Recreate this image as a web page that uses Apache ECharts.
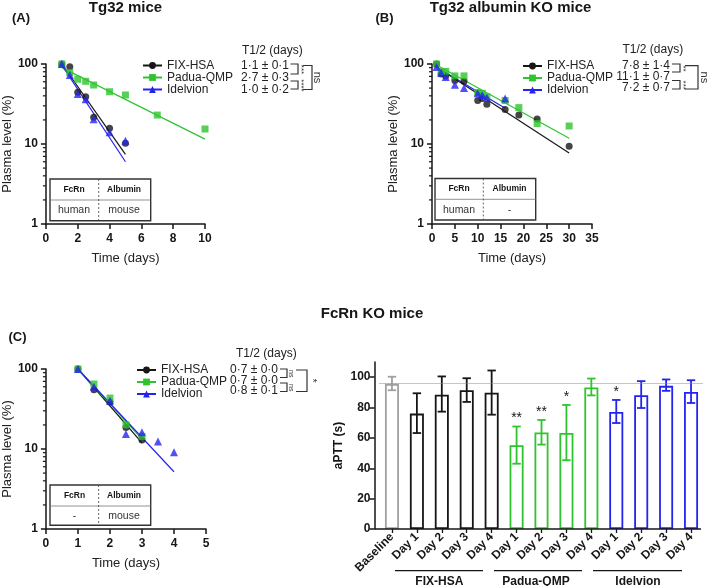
<!DOCTYPE html>
<html><head><meta charset="utf-8">
<script src="https://cdn.jsdelivr.net/npm/echarts@6/dist/echarts.min.js"></script>
<style>html,body{margin:0;padding:0;background:#fff}#c{width:709px;height:586px}</style>
</head><body><div id="c"></div>
<script>
// ---------- Panel A: Tg32 mice ----------
const aFixX = [1, 1.5, 2, 2.5, 3, 4, 5];
const aFixY = [100, 92.5, 44.5, 39, 21.6, 15.7, 10.2];
const aPadX = [1, 1.5, 2, 2.5, 3, 4, 5, 7, 10];
const aPadY = [100, 77.9, 64.4, 60.8, 54.6, 45, 41, 23, 15.4];
const aIdeX = [1, 1.5, 2, 2.5, 3, 4, 5];
const aIdeY = [100, 72.9, 42.2, 36.2, 20.4, 14.0, 11.0];
const aFixFitX = [1, 5],  aFixFitY = [100, 7.4];
const aPadFitX = [1, 10], aPadFitY = [90, 11.5];
const aIdeFitX = [1, 5],  aIdeFitY = [97, 6.0];
const aHalf = ['1·1 ± 0·1', '2·7 ± 0·3', '1·0 ± 0·2'];
const aSig = ['***', '****', 'ns'];
const aTable = ['FcRn', 'Albumin', 'human', 'mouse'];

// ---------- Panel B: Tg32 albumin KO mice ----------
const bFixX = [1, 2, 3, 5, 7, 10, 11, 12, 16, 19, 23, 30];
const bFixY = [100, 75, 71, 62, 61, 35, 37, 31.5, 27, 23, 20.5, 9.4];
const bPadX = [1, 2, 3, 5, 7, 10, 11, 12, 16, 19, 23, 30];
const bPadY = [100, 80, 81, 71, 71, 44, 43, 39, 35, 28.5, 18, 16.8];
const bIdeX = [1, 2, 3, 5, 7, 10, 11, 12, 16];
const bIdeY = [92, 78, 69, 55, 50, 43, 41, 38, 37];
const bFixFitX = [1, 30], bFixFitY = [92, 7.7];
const bPadFitX = [1, 30], bPadFitY = [97, 11.8];
const bIdeFitX = [1, 16], bIdeFitY = [92, 28];
const bHalf = ['7·8 ± 1·4', '11·1 ± 0·7', '7·2 ± 0·7'];
const bSig = ['**', '***', 'ns'];
const bTable = ['FcRn', 'Albumin', 'human', '-'];

// ---------- Panel C: FcRn KO mice ----------
const cFixX = [1, 1.5, 2, 2.5, 3];
const cFixY = [100, 55, 38.7, 18.6, 13];
const cPadX = [1, 1.5, 2, 2.5, 3];
const cPadY = [100, 65, 43.3, 20.1, 14.4];
const cIdeX = [1, 1.5, 2, 2.5, 3, 3.5, 4];
const cIdeY = [100, 60, 40, 15.4, 16.2, 12.4, 9.1];
const cFixFitX = [1, 3], cFixFitY = [100, 11.9];
const cPadFitX = [1, 3], cPadFitY = [100, 13.3];
const cIdeFitX = [1, 4], cIdeFitY = [100, 5.2];
const cHalf = ['0·7 ± 0·0', '0·7 ± 0·0', '0·8 ± 0·1'];
const cSig = ['ns', 'ns', '*'];
const cTable = ['FcRn', 'Albumin', '-', 'mouse'];

// ---------- Panel D: aPTT bars ----------
const dGroups = ['Baseline', 'FIX-HSA', 'FIX-HSA', 'FIX-HSA', 'FIX-HSA', 'Padua-QMP', 'Padua-QMP', 'Padua-QMP', 'Padua-QMP', 'Idelvion', 'Idelvion', 'Idelvion', 'Idelvion'];
const dLabels = ['Baseline', 'Day 1', 'Day 2', 'Day 3', 'Day 4', 'Day 1', 'Day 2', 'Day 3', 'Day 4', 'Day 1', 'Day 2', 'Day 3', 'Day 4'];
const dMean = [95.6, 76, 88.5, 91.4, 89.7, 55.2, 63.6, 63.2, 93.2, 77.1, 88.1, 94.3, 90.3];
const dLow  = [91.4, 63.2, 77.3, 83.7, 75.3, 43, 55.6, 45.3, 88, 69.8, 79.7, 91, 83];
const dHigh = [100.3, 89.4, 100.5, 99.3, 104.4, 67.5, 71.8, 81.7, 99.1, 85, 97.4, 98.5, 98];
const dStars = ['', '', '', '', '', '**', '**', '*', '', '*', '', '', ''];
const dBaselineRef = 95.8;
const dYTicks = [0, 20, 40, 60, 80, 100];

const seriesNames = ['FIX-HSA', 'Padua-QMP', 'Idelvion'];
const logMinor = [2, 3, 4, 5, 6, 7, 8, 9, 20, 30, 40, 50, 60, 70, 80, 90];

// ---------- styles ----------
const FONT = "'Liberation Sans', Arial, Helvetica, sans-serif";
const INK = '#161616';
const GREEN = '#2ec42e';
const BLUE = '#2424f0';
const GRAY = '#a0a0a0';
const colorOf = {'Baseline': GRAY, 'FIX-HSA': INK, 'Padua-QMP': GREEN, 'Idelvion': BLUE};
const symOf = {'FIX-HSA': 'circle', 'Padua-QMP': 'rect', 'Idelvion': 'triangle'};

const zip = (xs, ys) => xs.map((x, i) => [x, ys[i]]);

const grids = [
  {left: 45, top: 64, width: 160, height: 160},
  {left: 432, top: 64, width: 160, height: 160},
  {left: 45, top: 369, width: 161, height: 160},
  {left: 379.5, top: 362, width: 324, height: 167}
];

function logX(gi, max, interval) {
  return {
    type: 'value', gridIndex: gi, min: 0, max: max, interval: interval,
    axisLine: {show: true, lineStyle: {color: INK, width: 1.5}},
    axisTick: {show: true, length: 5, lineStyle: {color: INK, width: 1.5}},
    axisLabel: {fontFamily: FONT, fontWeight: 'bold', fontSize: 12, color: INK, margin: 9},
    splitLine: {show: false},
    name: 'Time (days)', nameLocation: 'middle', nameGap: 28,
    nameTextStyle: {fontFamily: FONT, fontSize: 13, color: '#222'}
  };
}
function logY(gi) {
  return {
    type: 'log', logBase: 10, gridIndex: gi, min: 1, max: 100,
    axisLine: {show: true, lineStyle: {color: INK, width: 1.5}},
    axisTick: {show: true, length: 5, lineStyle: {color: INK, width: 1.5}},
    axisLabel: {fontFamily: FONT, fontWeight: 'bold', fontSize: 12, color: INK, margin: 8},
    splitLine: {show: false},
    name: 'Plasma level (%)', nameLocation: 'middle', nameGap: 31,
    nameTextStyle: {fontFamily: FONT, fontSize: 13, color: '#222'}
  };
}

const series = [];
function addPanel(gi, pts, fits) {
  seriesNames.forEach((nm, k) => {
    series.push({
      type: 'line', name: nm, xAxisIndex: gi, yAxisIndex: gi,
      data: zip(fits[k][0], fits[k][1]), showSymbol: false,
      symbol: symOf[nm], symbolSize: 7,
      lineStyle: {color: colorOf[nm], width: 1.2}, itemStyle: {color: colorOf[nm]},
      silent: true, z: 2
    });
  });
  seriesNames.forEach((nm, k) => {
    series.push({
      type: 'scatter', name: nm + ' points', xAxisIndex: gi, yAxisIndex: gi,
      data: zip(pts[k][0], pts[k][1]), symbol: symOf[nm], symbolSize: nm === 'Idelvion' ? 8 : 7,
      itemStyle: {color: colorOf[nm]}, silent: true, z: 3
    });
  });
  series.push({
    type: 'custom', xAxisIndex: gi, yAxisIndex: gi, silent: true, z: 5,
    data: logMinor.map(v => [0, v]),
    renderItem: function (params, api) {
      const p = api.coord([api.value(0), api.value(1)]);
      return {type: 'line', shape: {x1: p[0] - 3, y1: p[1], x2: p[0], y2: p[1]},
              style: {stroke: INK, lineWidth: 1.2}};
    }
  });
}
addPanel(0, [[aFixX, aFixY], [aPadX, aPadY], [aIdeX, aIdeY]],
            [[aFixFitX, aFixFitY], [aPadFitX, aPadFitY], [aIdeFitX, aIdeFitY]]);
addPanel(1, [[bFixX, bFixY], [bPadX, bPadY], [bIdeX, bIdeY]],
            [[bFixFitX, bFixFitY], [bPadFitX, bPadFitY], [bIdeFitX, bIdeFitY]]);
addPanel(2, [[cFixX, cFixY], [cPadX, cPadY], [cIdeX, cIdeY]],
            [[cFixFitX, cFixFitY], [cPadFitX, cPadFitY], [cIdeFitX, cIdeFitY]]);

// bar chart
const dCats = dLabels.map((l, i) => dGroups[i] + '|' + l);
series.push({
  type: 'bar', xAxisIndex: 3, yAxisIndex: 3, barWidth: 14,
  data: dMean.map((v, i) => ({value: v, itemStyle: {color: 'rgba(255,255,255,0)', borderColor: colorOf[dGroups[i]], borderWidth: 1.8}})),
  silent: true, z: 2,
  markLine: {silent: true, symbol: 'none', label: {show: false},
    lineStyle: {type: 'dotted', color: '#8a8a8a', width: 1}, data: [{yAxis: dBaselineRef}]}
});
series.push({
  type: 'custom', xAxisIndex: 3, yAxisIndex: 3, silent: true, z: 4,
  data: dMean.map((v, i) => [i, dLow[i], dHigh[i]]),
  encode: {x: 0, y: [1, 2]},
  renderItem: function (params, api) {
    const i = params.dataIndex;
    const lo = api.coord([api.value(0), api.value(1)]);
    const hi = api.coord([api.value(0), api.value(2)]);
    const x = lo[0], c = colorOf[dGroups[i]], w = 4.2;
    const st = {stroke: c, lineWidth: 1.8};
    const kids = [
      {type: 'line', shape: {x1: x, y1: lo[1], x2: x, y2: hi[1]}, style: st},
      {type: 'line', shape: {x1: x - w, y1: lo[1], x2: x + w, y2: lo[1]}, style: st},
      {type: 'line', shape: {x1: x - w, y1: hi[1], x2: x + w, y2: hi[1]}, style: st}
    ];
    if (dStars[i]) kids.push({type: 'text', x: x, y: hi[1] - 1,
      style: {text: dStars[i], font: '14px ' + FONT, fill: INK, align: 'center', verticalAlign: 'bottom'}});
    return {type: 'group', children: kids};
  }
});

// ---------- graphics (titles, tables, T1/2 annotations) ----------
const G = [];
function txt(x, y, s, size, bold, align, rot, color) {
  G.push({type: 'text', x: x, y: y, rotation: rot || 0, z: 100,
    style: {text: s, font: (bold ? 'bold ' : '') + size + 'px ' + FONT, fill: color || INK,
            align: align || 'center', verticalAlign: 'middle'}});
}
function ln(x1, y1, x2, y2, w, color, dash) {
  G.push({type: 'line', z: 100, shape: {x1, y1, x2, y2},
    style: {stroke: color || INK, lineWidth: w || 1.2, lineDash: dash || null}});
}
function pl(points, w, color) {
  G.push({type: 'polyline', z: 100, shape: {points: points},
    style: {stroke: color || '#333', lineWidth: w || 1.2, fill: null}});
}
function table(x, y, w, h, divY, vx, col1, col2, t) {
  G.push({type: 'rect', z: 99, shape: {x: x, y: y, width: w, height: h},
    style: {fill: '#fff', stroke: '#333', lineWidth: 1.4}});
  ln(x, divY, x + w, divY, 0.8, '#777');
  ln(vx, y, vx, y + h, 0.8, '#444', [2, 2]);
  const hy = (y + divY) / 2, by = (divY + y + h) / 2;
  txt(col1, hy, t[0], 8.5, true);
  txt(col2, hy, t[1], 8.5, true);
  txt(col1, by, t[2], 10.5, false, 'center', 0, '#333');
  txt(col2, by, t[3], 10.5, false, 'center', 0, '#333');
}
function halfBlock(hx, hy, vx, rows, vals, sig, br) {
  txt(hx, hy, 'T1/2 (days)', 12, false, 'left', 0, '#222');
  vals.forEach((v, k) => txt(vx, rows[k], v, 12, false, 'right', 0, '#222'));
  // small brackets
  pl([[br.x0, br.s1[0]], [br.x1, br.s1[0]], [br.x1, br.s1[1]], [br.x0, br.s1[1]]]);
  pl([[br.x0, br.s2[0]], [br.x1, br.s2[0]], [br.x1, br.s2[1]], [br.x0, br.s2[1]]]);
  txt(br.x1 + 3.5, (br.s1[0] + br.s1[1]) / 2 + 0.5, sig[0], br.ss, false, 'center', -Math.PI / 2, '#333');
  txt(br.x1 + 3.5, (br.s2[0] + br.s2[1]) / 2 + 0.5, sig[1], br.ss, false, 'center', -Math.PI / 2, '#333');
  // outer bracket
  pl([[br.o0, br.o[0]], [br.o1, br.o[0]], [br.o1, br.o[1]], [br.o0, br.o[1]]]);
  txt(br.o1 + br.og, (br.o[0] + br.o[1]) / 2, sig[2], br.os, false, 'center', -Math.PI / 2, '#333');
}

// titles
txt(125.5, 8, 'Tg32 mice', 15, true);
txt(510.5, 8, 'Tg32 albumin KO mice', 15, true);
txt(372, 313.5, 'FcRn KO mice', 15, true);
txt(12, 18.5, '(A)', 13, true, 'left');
txt(375.5, 18.5, '(B)', 13, true, 'left');
txt(8.5, 337, '(C)', 13, true, 'left');

// tables
table(50, 179, 100.7, 41.7, 200, 98.7, 74, 124, aTable);
table(435, 178.5, 100.7, 41.5, 199.3, 483.3, 459, 509.5, bTable);
table(50, 485, 100.7, 40.3, 506, 98.7, 74.5, 124, cTable);

// T1/2 blocks
halfBlock(242, 51, 289, [65.5, 77.5, 89.3], aHalf, aSig,
  {x0: 290.5, x1: 298, s1: [64, 74], s2: [81, 89], ss: 8, o0: 303, o1: 312, o: [65.5, 89.5], og: 5.5, os: 11});
halfBlock(622.5, 50, 670, [65.7, 76.7, 87.7], bHalf, bSig,
  {x0: 672, x1: 680, s1: [64, 72], s2: [80.5, 89], ss: 8, o0: 685, o1: 698, o: [65.7, 89], og: 6, os: 11});
halfBlock(236, 353.3, 278, [369.5, 380.2, 391], cHalf, cSig,
  {x0: 280, x1: 287, s1: [369, 377.5], s2: [383, 391.5], ss: 7, o0: 296, o1: 307, o: [370, 391.5], og: 5, os: 11});

// bar chart x-axis base line and group labels
ln(374.5, 529, 701, 529, 1.5, INK);
ln(395, 570.7, 483, 570.7, 1.2, INK);
ln(494, 570.7, 582, 570.7, 1.2, INK);
ln(593, 570.7, 682, 570.7, 1.2, INK);
txt(439.3, 581.5, 'FIX-HSA', 12, true);
txt(536, 581.5, 'Padua-QMP', 12, true);
txt(638, 581.5, 'Idelvion', 12, true);

const legendBase = {
  data: seriesNames, orient: 'vertical', itemWidth: 19, itemHeight: 8.5, itemGap: 0,
  padding: 0, selectedMode: false, inactiveColor: '#ccc'
};

const option = {
  animation: false,
  backgroundColor: '#fff',
  textStyle: {fontFamily: FONT},
  grid: grids,
  legend: [
    Object.assign({}, legendBase, {left: 142, top: 59.5, textStyle: {fontFamily: FONT, fontSize: 12, color: '#222', lineHeight: 12}}),
    Object.assign({}, legendBase, {left: 522, top: 60, textStyle: {fontFamily: FONT, fontSize: 12, color: '#222', lineHeight: 11}}),
    Object.assign({}, legendBase, {left: 136, top: 364, textStyle: {fontFamily: FONT, fontSize: 12, color: '#222', lineHeight: 11}})
  ],
  xAxis: [
    logX(0, 10, 2), logX(1, 35, 5), logX(2, 5, 1),
    {type: 'category', gridIndex: 3, data: dCats,
     axisLine: {show: false},
     axisTick: {show: true, alignWithLabel: true, length: 4, interval: 0, lineStyle: {color: INK, width: 1.3}},
     axisLabel: {interval: 0, rotate: 45, margin: 6, fontFamily: FONT, fontWeight: 'bold', fontSize: 12, color: INK,
                 formatter: v => v.split('|').pop()}}
  ],
  yAxis: [
    logY(0), logY(1), logY(2),
    {type: 'value', gridIndex: 3, min: 0, max: 110, offset: 5,
     axisLine: {show: true, lineStyle: {color: INK, width: 1.5}},
     axisTick: {show: true, length: 5, customValues: dYTicks, lineStyle: {color: INK, width: 1.5}},
     axisLabel: {customValues: dYTicks, fontFamily: FONT, fontWeight: 'bold', fontSize: 12, color: INK, margin: 4},
     splitLine: {show: false},
     name: 'aPTT (s)', nameLocation: 'middle', nameGap: 30,
     nameTextStyle: {fontFamily: FONT, fontSize: 12, fontWeight: 'bold', color: INK}}
  ],
  series: series,
  graphic: {elements: G}
};

const chart = echarts.init(document.getElementById('c'), null, {renderer: 'canvas'});
chart.setOption(option);
</script>
</body></html>
